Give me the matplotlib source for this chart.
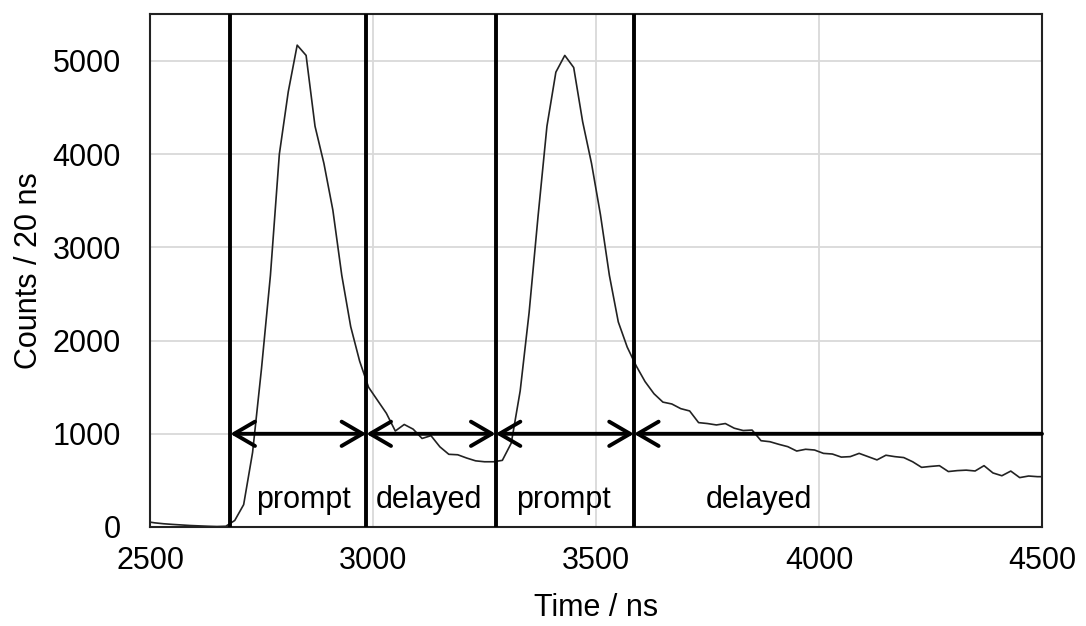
import matplotlib
matplotlib.use("Agg")
import matplotlib.pyplot as plt

plt.rcParams['font.family'] = ['Liberation Sans', 'DejaVu Sans']

# bin centres (ns)
time_ns = [2490, 2510, 2530, 2550, 2570, 2590, 2610, 2630, 2650, 2670,
           2690, 2710, 2730, 2750, 2770, 2790, 2810, 2830, 2850, 2870,
           2890, 2910, 2930, 2950, 2970, 2990, 3010, 3030, 3050, 3070,
           3090, 3110, 3130, 3150, 3170, 3190, 3210, 3230, 3250, 3270,
           3290, 3310, 3330, 3350, 3370, 3390, 3410, 3430, 3450, 3470,
           3490, 3510, 3530, 3550, 3570, 3590, 3610, 3630, 3650, 3670,
           3690, 3710, 3730, 3750, 3770, 3790, 3810, 3830, 3850, 3870,
           3890, 3910, 3930, 3950, 3970, 3990, 4010, 4030, 4050, 4070,
           4090, 4110, 4130, 4150, 4170, 4190, 4210, 4230, 4250, 4270,
           4290, 4310, 4330, 4350, 4370, 4390, 4410, 4430, 4450, 4470,
           4490, 4510]

counts = [60, 45, 35, 28, 22, 16, 12, 8, 5, 8,
          70, 240, 800, 1700, 2700, 4000, 4670, 5170, 5060, 4300,
          3900, 3400, 2700, 2150, 1780, 1500, 1360, 1220, 1030, 1100,
          1050, 950, 980, 860, 780, 775, 740, 710, 700, 700,
          715, 900, 1460, 2300, 3330, 4300, 4880, 5060, 4930, 4350,
          3900, 3350, 2700, 2200, 1930, 1730, 1560, 1430, 1340, 1320,
          1270, 1245, 1120, 1110, 1095, 1110, 1060, 1035, 1040, 926,
          915, 887, 862, 815, 834, 826, 790, 783, 750, 755,
          790, 755, 720, 770, 755, 745, 700, 640, 650, 658,
          595, 605, 610, 601, 658, 580, 550, 600, 530, 547,
          540, 540]

# window boundaries (ns) and labels
boundaries = [2680, 2985, 3275, 3585, 4500]
window_labels = ["prompt", "delayed", "prompt", "delayed"]
label_x = [2845, 3126, 3427, 3866]
arrow_level = 1000
label_level = 290

x_ticks = [2500, 3000, 3500, 4000, 4500]
y_ticks = [0, 1000, 2000, 3000, 4000, 5000]

W, H = 1086, 626
fig = plt.figure(figsize=(W / 100, H / 100), dpi=100)
left, right, top, bottom = 150, 1042, 14.4, 527
ax = fig.add_axes([left / W, 1 - bottom / H, (right - left) / W, (bottom - top) / H])

ax.set_xlim(2500, 4500)
ax.set_ylim(0, 5500)
ax.set_xticks(x_ticks)
ax.set_yticks(y_ticks)
ax.grid(True, color='#d9d9d9', lw=1.3)
ax.set_axisbelow(True)
for s in ax.spines.values():
    s.set_color('#222222')
    s.set_linewidth(1.5)
ax.tick_params(length=0, labelsize=22)
ax.tick_params(axis='x', pad=14)
ax.tick_params(axis='y', pad=21)

ax.plot(time_ns, counts, color='#222222', lw=1.2, zorder=3)

for b in boundaries[:-1]:
    ax.axvline(b, color='black', lw=2.8, zorder=4)

both = '<->,head_length=0.6,head_width=0.35'
one = '->,head_length=0.6,head_width=0.35'
n_win = len(boundaries) - 1
for i in range(n_win):
    a, b = boundaries[i], boundaries[i + 1]
    if i < n_win - 1:
        xy, xytext, style = (b, arrow_level), (a, arrow_level), both
    else:
        xy, xytext, style = (a, arrow_level), (b, arrow_level), one
    ax.annotate('', xy=xy, xytext=xytext,
                arrowprops=dict(arrowstyle=style, lw=2.8, color='black',
                                shrinkA=0, shrinkB=0, mutation_scale=25),
                zorder=5, annotation_clip=False)

for lx, lab in zip(label_x, window_labels):
    ax.text(lx, label_level, lab, ha='center', va='center', fontsize=22, zorder=6)

ax.set_xlabel("Time / ns", fontsize=22, labelpad=12)
ax.set_ylabel("Counts / 20 ns", fontsize=22, labelpad=6)

fig.savefig("out.png", dpi=100)
